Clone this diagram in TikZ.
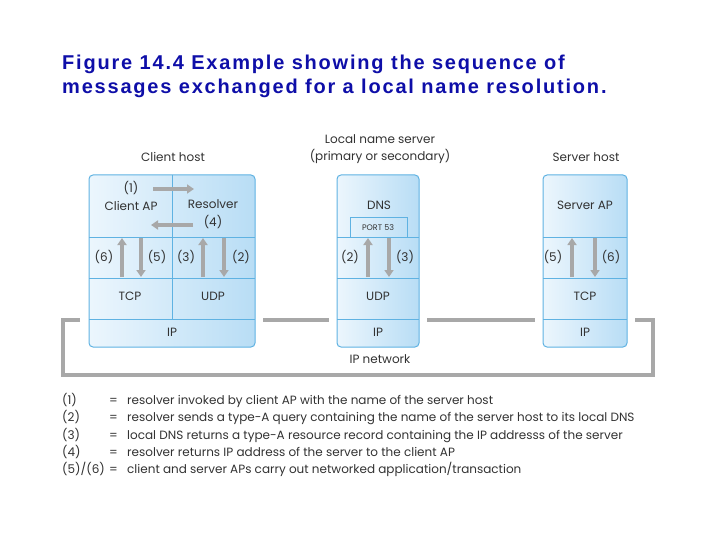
\documentclass[tikz,border=0pt]{standalone}
\usepackage{fontspec}
\usetikzlibrary{arrows.meta}
\newfontfamily\titlefont[LetterSpace=9]{Liberation Sans}
\newfontfamily\figfont{Poppins}
\definecolor{titleblue}{RGB}{14,14,168}
\definecolor{edgeblue}{RGB}{95,178,226}
\definecolor{lightfill}{RGB}{236,246,253}
\definecolor{darkfill}{RGB}{184,221,245}
\definecolor{netgray}{RGB}{168,168,168}
\definecolor{textgray}{RGB}{50,50,50}

\begin{document}
\begin{tikzpicture}[x=1pt, y=-1pt,
  host/.style={draw=edgeblue, line width=1pt, rounded corners=4pt, left color=lightfill, right color=darkfill},
  layer/.style={draw=edgeblue, line width=1pt},
  msg/.style={draw=netgray, line width=4pt, -{Triangle[length=7pt, width=9pt]}},
  net/.style={draw=netgray, line width=4pt},
  lbl/.style={font=\figfont\fontsize{12}{17.5}\selectfont, text=textgray, inner sep=0pt},
  legend/.style={lbl, anchor=base west},
  caption/.style={font=\titlefont\bfseries\fontsize{20}{24}\selectfont, text=titleblue, anchor=base west, inner sep=0pt}]
\useasboundingbox (0,0) rectangle (720,540);

% title
\node[caption] (title1) at (62,70) {Figure 14.4 Example showing the sequence of};
\node[caption] (title2) at (62,94) {messages exchanged for a local name resolution.};

% IP network
\draw[net] (80,320) -- (63,320) -- (63,375) -- (653,375) -- (653,320) -- (635,320);
\draw[net] (263,320) -- (329,320);
\draw[net] (427,320) -- (535,320);

% hosts
\path[host] (89,175) rectangle (255,347);
\path[host] (337,175) rectangle (419,347);
\path[host] (543,175) rectangle (627,347);
\foreach \y in {237,278,319}
{
	\draw[layer] (89,\y) -- (255,\y);
	\draw[layer] (337,\y) -- (419,\y);
	\draw[layer] (543,\y) -- (627,\y);
}
\draw[layer] (172,175) -- (172,319);
\draw[layer] (350,237) |- (407,218) -- (407,237);

% headings
\node[lbl] (client) at (173,157) {Client host};
\node[lbl, align=center] (local) at (380,149) {Local name server\\(primary or secondary)};
\node[lbl] (server) at (586,157) {Server host};
\node[lbl] (ipnet) at (380,359) {IP network};

% layer names
\node[lbl, align=center] (cap) at (131,196) {(1)\\Client AP};
\node[lbl, align=center] (res) at (213,214) {Resolver\\(4)};
\node[lbl] (dns) at (379,205) {DNS};
\node[lbl, font=\figfont\fontsize{8}{10}\selectfont] (port) at (378,228) {PORT 53};
\node[lbl] (sap) at (585,205) {Server AP};
\foreach \name/\x/\txt in {ctcp/130/TCP, cudp/213/UDP, dudp/378/UDP, stcp/585/TCP}
	\node[lbl] (\name) at (\x,296) {\txt};
\foreach \name/\x in {cip/172, dip/378, sip/585}
	\node[lbl] (\name) at (\x,332) {IP};

% message labels
\foreach \name/\x/\txt in {l6/104/(6), l5/157/(5), l3/186/(3), l2/241/(2), m2/350/(2), m3/405/(3), s5/553/(5), s6/611/(6)}
	\node[lbl] (\name) at (\x,257) {\txt};

% message arrows
\coordinate (c1a) at (153,189);
\coordinate (c1b) at (194,189);
\coordinate (c4a) at (193,225);
\coordinate (c4b) at (151,225);
\foreach \name/\x in {a6/122, a5/141, a3/203, a2/224, b2/368, b3/389, s5/572, s6/595}
{
	\coordinate (\name t) at (\x,238);
	\coordinate (\name b) at (\x,277);
}
\draw[msg] (c1a) -- (c1b);
\draw[msg] (c4a) -- (c4b);
\draw[msg] (a6b) -- (a6t);
\draw[msg] (a5t) -- (a5b);
\draw[msg] (a3b) -- (a3t);
\draw[msg] (a2t) -- (a2b);
\draw[msg] (b2b) -- (b2t);
\draw[msg] (b3t) -- (b3b);
\draw[msg] (s5b) -- (s5t);
\draw[msg] (s6t) -- (s6b);

% legend
\foreach \k/\y/\txt in {
	1/404/resolver invoked by client AP with the name of the server host,
	2/421/resolver sends a type-A query containing the name of the server host to its local DNS,
	3/439/local DNS returns a type-A resource record containing the IP addresss of the server,
	4/456/resolver returns IP address of the server to the client AP}
{
	\node[legend] (key\k) at (62,\y) {(\k)};
	\node[legend] (eq\k) at (109,\y) {=};
	\node[legend] (txt\k) at (127,\y) {\txt};
}
\node[legend] (key5) at (62,473) {(5)/(6)};
\node[legend] (eq5) at (109,473) {=};
\node[legend] (txt5) at (127,473) {client and server APs carry out networked application/transaction};
\end{tikzpicture}
\end{document}
